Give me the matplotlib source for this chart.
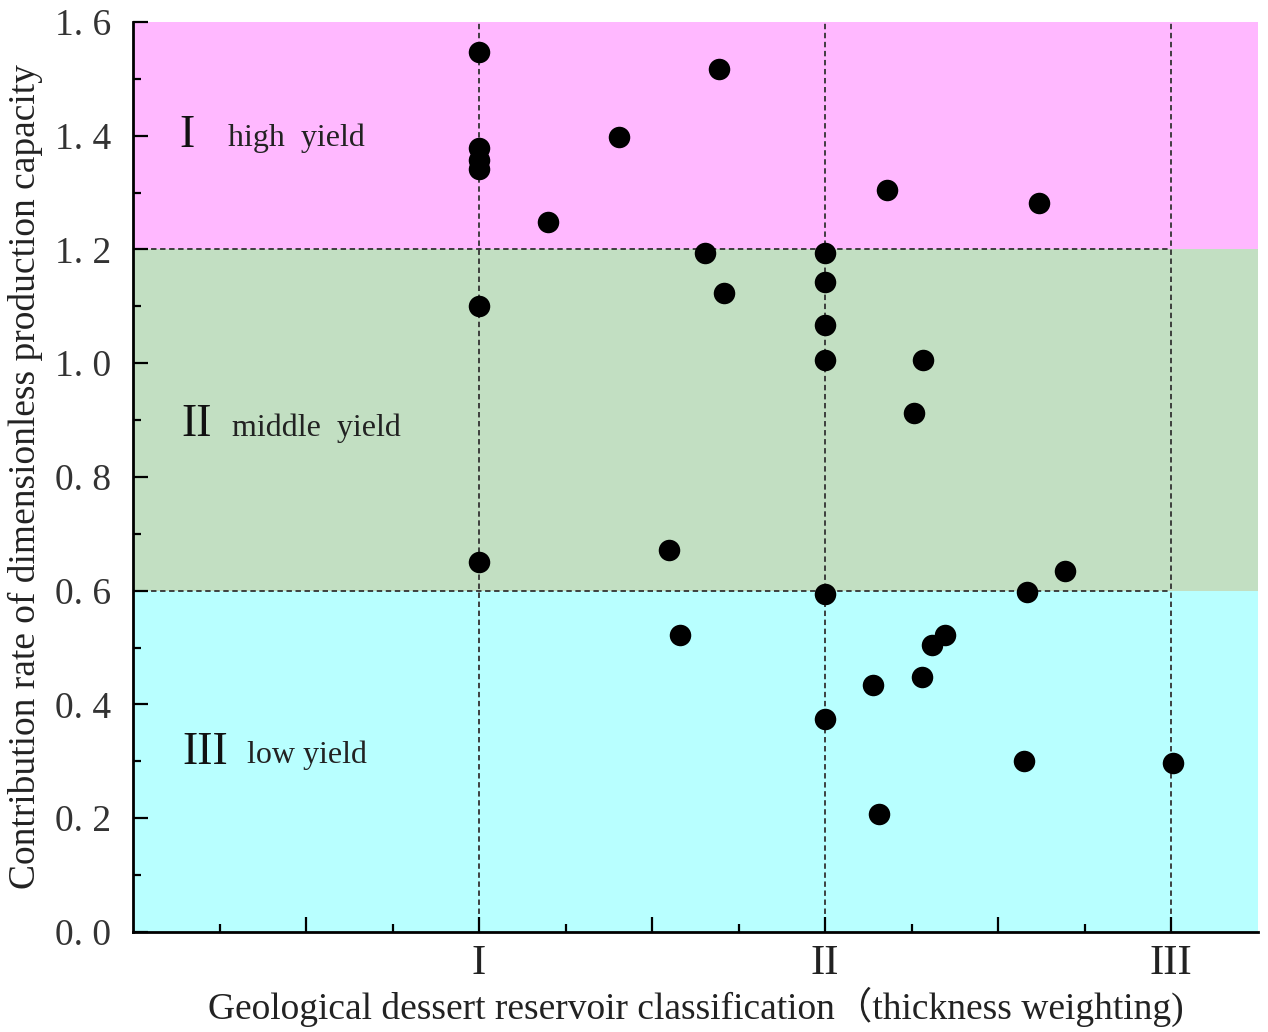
import matplotlib
matplotlib.use("Agg")
import matplotlib.pyplot as plt
from matplotlib.ticker import FixedLocator, FixedFormatter

# ---- data ----
x_vals = [1.0, 1.0, 1.0, 1.0, 1.198, 1.403, 1.694, 1.654, 1.707, 1.0, 1.0,
          1.550, 1.579, 2.0, 2.0, 2.0, 2.0, 2.0, 2.0, 2.178, 2.617, 2.283,
          2.257, 2.692, 2.584, 2.347, 2.308, 2.279, 2.139, 2.155, 2.574, 3.005]
y_vals = [1.547, 1.378, 1.358, 1.341, 1.249, 1.398, 1.517, 1.193, 1.124, 1.101, 0.651,
          0.672, 0.522, 1.193, 1.143, 1.067, 1.006, 0.595, 0.374, 1.305, 1.282, 1.006,
          0.913, 0.635, 0.597, 0.523, 0.505, 0.448, 0.435, 0.207, 0.300, 0.297]

band_edges = [0.0, 0.6, 1.2, 1.6]
band_colors = ["#B8FFFF", "#C2DFC2", "#FFB8FF"]
band_numerals = ["III", "II", "I"]
band_names = ["low yield", "middle  yield", "high  yield"]
band_label_y = [0.315, 0.891, 1.40]

class_positions = [1, 2, 3]
class_labels = ["I", "II", "III"]
y_ticks = [0.0, 0.2, 0.4, 0.6, 0.8, 1.0, 1.2, 1.4, 1.6]
y_ticklabels = ["0. 0", "0. 2", "0. 4", "0. 6", "0. 8", "1. 0", "1. 2", "1. 4", "1. 6"]

SERIF = ["Liberation Serif", "DejaVu Serif"]
plt.rcParams["font.family"] = SERIF

fig = plt.figure(figsize=(12.68, 10.32), dpi=100)
ax = fig.add_axes([0.1049, 0.0969, 0.992 - 0.1049, 0.9787 - 0.0969])

xmin, xmax = 0.0, 3.25
ax.set_xlim(xmin, xmax)
ax.set_ylim(0, 1.6)

for (lo, hi), c in zip(zip(band_edges[:-1], band_edges[1:]), band_colors):
    ax.axhspan(lo, hi, color=c, zorder=0, lw=0)

dash = (0, (3, 2))
for xp in class_positions:
    ax.plot([xp, xp], [0, 1.6], color="#333333", lw=1.3, ls=dash, zorder=1)
for yb in band_edges[1:-1]:
    ax.plot([xmin, class_positions[-1]], [yb, yb], color="#333333", lw=1.3, ls=dash, zorder=1)

ax.scatter(x_vals, y_vals, s=240, color="black", zorder=3, linewidths=0)

num_x = {"I": 0.135, "II": 0.141, "III": 0.144}
name_x = {"I": 0.274, "II": 0.285, "III": 0.329}
for num, name, yl in zip(band_numerals, band_names, band_label_y):
    ax.text(num_x[num], yl, num, fontsize=33, color="#111111", va="center", ha="left", zorder=4)
    ax.text(name_x[num], yl - 0.005, name, fontsize=23, color="#222222",
            va="center", ha="left", zorder=4)

for s in ["top", "right"]:
    ax.spines[s].set_visible(False)
for s in ["left", "bottom"]:
    ax.spines[s].set_linewidth(2.0)
    ax.spines[s].set_color("black")
    ax.spines[s].set_zorder(5)

ax.yaxis.set_major_locator(FixedLocator(y_ticks))
ax.yaxis.set_major_formatter(FixedFormatter(y_ticklabels))
ax.yaxis.set_minor_locator(FixedLocator([0.1, 0.3, 0.5, 0.7, 0.9, 1.1, 1.3, 1.5]))

xmaj = [0.5, 1.0, 1.5, 2.0, 2.5, 3.0]
xmaj_labels = ["", "I", "", "II", "", "III"]
ax.xaxis.set_major_locator(FixedLocator(xmaj))
ax.xaxis.set_major_formatter(FixedFormatter(xmaj_labels))
ax.xaxis.set_minor_locator(FixedLocator([0.25, 0.75, 1.25, 1.75, 2.25, 2.75]))

ax.tick_params(axis="both", which="major", direction="in", length=11, width=1.6, color="black")
ax.tick_params(axis="both", which="minor", direction="in", length=6, width=1.6, color="black")
ax.tick_params(axis="y", which="major", labelsize=27, labelcolor="#333333", pad=16)
ax.tick_params(axis="x", which="major", labelsize=31, labelcolor="#222222", pad=9)

ax.set_ylabel("Contribution rate of dimensionless production capacity", fontsize=27,
              color="#222222")
ax.set_xlabel("Geological dessert reservoir classification\uff08thickness weighting)",
              fontsize=27, color="#222222",
              family=["Liberation Serif", "Noto Sans CJK SC"])
ax.yaxis.set_label_coords(-0.080, 0.5)
ax.xaxis.set_label_coords(0.5, -0.060)

fig.savefig("out.png", dpi=100)
